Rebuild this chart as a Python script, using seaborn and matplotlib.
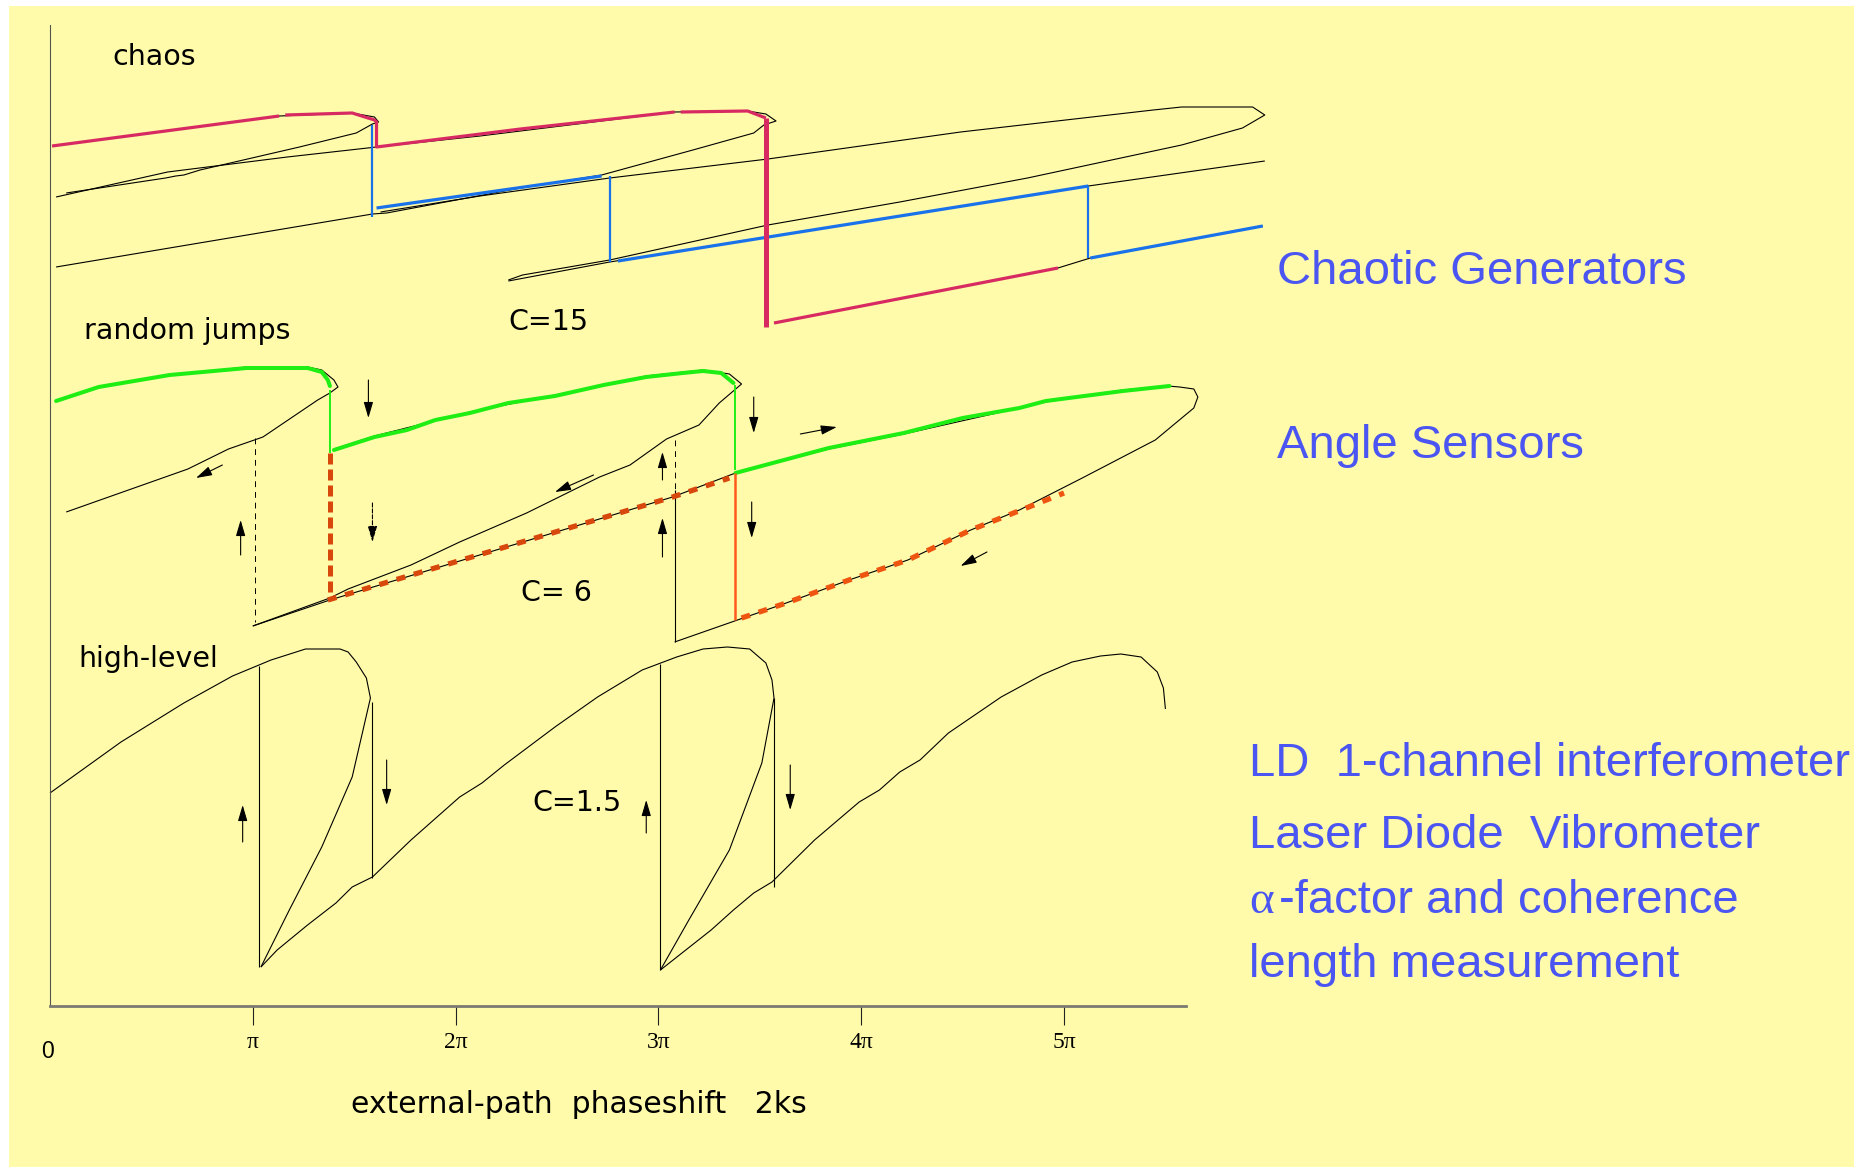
import matplotlib
matplotlib.use("Agg")
import matplotlib.pyplot as plt
from matplotlib.patches import Rectangle
import pandas as pd
import seaborn as sns

# ------------------------------------------------------------------
# Self-mixing interferometer response vs. external phase 2ks
# x: phase in units of pi, y: output level (arbitrary units)
# ------------------------------------------------------------------

# C = 15 : chaos
c15_loop1 = [(0.01, 8.60), (1.13, 8.90), (1.49, 8.93), (1.60, 8.89), (1.62, 8.84),
             (1.59, 8.82), (1.51, 8.73), (1.23, 8.59), (0.74, 8.36), (0.66, 8.31),
             (0.62, 8.30), (0.57, 8.28), (0.08, 8.13)]
c15_loop2 = [(0.03, 8.09), (0.58, 8.34), (1.17, 8.49), (1.61, 8.59), (2.12, 8.70),
             (3.08, 8.94), (3.44, 8.95), (3.53, 8.92), (3.58, 8.85), (3.52, 8.81),
             (3.47, 8.73), (3.17, 8.56), (2.72, 8.31), (2.32, 8.18), (1.66, 7.93),
             (1.59, 7.92), (0.03, 7.39)]
c15_loop3 = [(1.63, 7.94), (2.12, 8.10), (2.76, 8.28), (3.54, 8.47), (4.49, 8.74),
             (5.44, 8.96), (5.58, 8.99), (5.93, 8.99), (5.99, 8.91), (5.88, 8.78),
             (5.58, 8.61), (4.82, 8.28), (4.19, 8.04), (3.54, 7.81), (2.76, 7.46),
             (2.33, 7.31), (2.26, 7.26)]
c15_branch4 = [(2.26, 7.25), (2.76, 7.44), (5.12, 8.20), (5.99, 8.45)]
c15_branch5 = [(3.57, 6.83), (4.97, 7.38), (5.13, 7.48), (5.98, 7.80)]

c15_red_runs = [
    [(0.01, 8.60), (1.13, 8.90)],
    [(1.16, 8.91), (1.49, 8.93), (1.60, 8.86), (1.61, 8.84), (1.61, 8.59),
     (2.32, 8.77), (3.08, 8.94)],
    [(3.11, 8.94), (3.44, 8.95), (3.53, 8.88)],
    [(3.57, 6.83), (4.97, 7.38)],
]
c15_red_drop = [(3.53, 8.88), (3.53, 6.79)]
c15_blue_runs = [
    [(1.61, 7.98), (2.72, 8.30)],
    [(2.80, 7.45), (5.12, 8.20)],
    [(5.13, 7.48), (5.98, 7.80)],
]
c15_blue_drops = [
    [(1.59, 8.81), (1.59, 7.89)],
    [(2.76, 8.30), (2.76, 7.44)],
    [(5.12, 8.20), (5.12, 7.48)],
]

# C = 6 : random jumps
c6_loop_a = [(0.03, 6.05), (0.24, 6.19), (0.59, 6.31), (0.97, 6.39), (1.27, 6.39),
             (1.34, 6.36), (1.40, 6.26), (1.42, 6.19), (1.38, 6.13), (1.32, 6.06),
             (1.05, 5.69), (0.88, 5.57), (0.68, 5.37), (0.08, 4.94)]
c6_loop_b = [(1.00, 3.80), (1.38, 4.08), (1.47, 4.17), (1.78, 4.41), (2.02, 4.64),
             (2.35, 4.93), (2.71, 5.29), (2.86, 5.41), (3.04, 5.67), (3.20, 5.81),
             (3.30, 6.03), (3.41, 6.22), (3.35, 6.32), (3.22, 6.36), (2.94, 6.30),
             (2.49, 6.11), (2.07, 5.94), (1.60, 5.70), (1.40, 5.57)]
c6_loop_c = [(1.00, 3.80), (1.38, 4.06), (3.07, 5.09), (3.38, 5.33), (3.84, 5.57),
             (4.21, 5.72), (4.91, 6.04), (5.29, 6.16), (5.51, 6.20), (5.57, 6.19),
             (5.64, 6.17), (5.66, 6.09), (5.64, 5.98), (5.45, 5.66), (5.09, 5.28),
             (4.78, 4.96), (4.54, 4.76), (4.23, 4.46), (3.94, 4.26), (3.63, 4.03),
             (3.39, 3.86), (3.08, 3.64)]
c6_green_runs = [
    [(0.03, 6.05), (0.24, 6.19), (0.59, 6.31), (0.97, 6.38), (1.27, 6.38),
     (1.34, 6.34), (1.37, 6.26), (1.38, 6.20)],
    [(1.40, 5.56), (1.60, 5.69), (1.76, 5.76), (1.90, 5.86), (2.07, 5.93),
     (2.26, 6.03), (2.49, 6.10), (2.73, 6.21), (2.94, 6.29), (3.12, 6.33),
     (3.22, 6.35), (3.31, 6.33), (3.37, 6.23)],
    [(3.38, 5.33), (3.84, 5.58), (4.21, 5.73), (4.50, 5.88), (4.78, 5.98),
     (4.91, 6.05), (5.29, 6.15), (5.52, 6.20)],
]
c6_green_drops = [[(1.38, 6.16), (1.38, 5.53)], [(3.38, 6.21), (3.38, 5.36)]]
c6_orange_dashed_drop = [(1.38, 5.53), (1.38, 4.08)]
c6_orange_drop = [(3.38, 5.33), (3.38, 3.86)]
c6_orange_dots = [
    [(1.37, 4.06), (3.07, 5.09), (3.35, 5.28)],
    [(3.41, 3.88), (3.63, 4.03), (3.94, 4.26), (4.23, 4.46), (4.54, 4.76), (5.00, 5.13)],
]
c6_guides_dashed = [[(1.01, 5.68), (1.01, 3.84)], [(3.08, 5.66), (3.08, 5.16)]]
c6_guides_solid = [[(3.08, 5.16), (3.08, 3.64)]]
c6_arrows = [((0.85, 5.41), (0.72, 5.28)), ((0.94, 4.51), (0.94, 4.86)),
             ((1.57, 6.26), (1.57, 5.88)), ((2.68, 5.31), (2.49, 5.14)),
             ((3.02, 5.26), (3.02, 5.54)), ((3.02, 4.49), (3.02, 4.88)),
             ((3.47, 6.09), (3.47, 5.73)), ((3.70, 5.72), (3.88, 5.79)),
             ((3.46, 5.04), (3.46, 4.68)), ((4.62, 4.54), (4.49, 4.40))]
c6_dashed_arrow = ((1.59, 5.03), (1.59, 4.64))

# C = 1.5 : high-level
c1p5_arc1 = [(0.00, 2.13), (0.35, 2.64), (0.66, 3.03), (0.90, 3.30), (1.09, 3.46),
             (1.26, 3.57), (1.43, 3.57), (1.47, 3.54), (1.51, 3.44), (1.56, 3.28),
             (1.58, 3.08), (1.49, 2.29), (1.34, 1.59), (1.18, 0.96), (1.04, 0.39)]
c1p5_arc2 = [(1.04, 0.39), (1.12, 0.56), (1.27, 0.81), (1.41, 1.03), (1.49, 1.19),
             (1.59, 1.29), (1.78, 1.66), (2.02, 2.09), (2.13, 2.23), (2.24, 2.41),
             (2.49, 2.79), (2.70, 3.09), (2.92, 3.36), (3.09, 3.49), (3.22, 3.57),
             (3.34, 3.59), (3.45, 3.57), (3.53, 3.43), (3.56, 3.26), (3.57, 3.08),
             (3.51, 2.43), (3.35, 1.56), (3.15, 0.86), (3.01, 0.36)]
c1p5_arc3 = [(3.01, 0.36), (3.26, 0.76), (3.37, 0.96), (3.47, 1.13), (3.56, 1.24),
             (3.77, 1.66), (3.99, 2.04), (4.09, 2.16), (4.19, 2.34), (4.29, 2.46),
             (4.43, 2.73), (4.69, 3.09), (4.89, 3.31), (5.04, 3.44), (5.18, 3.50),
             (5.28, 3.52), (5.38, 3.49), (5.46, 3.34), (5.49, 3.18), (5.50, 2.97)]
c1p5_jumps = [[(1.03, 3.40), (1.03, 0.39)], [(1.59, 3.04), (1.59, 1.28)],
              [(3.01, 3.42), (3.01, 0.36)], [(3.57, 3.08), (3.57, 1.19)]]
c1p5_arrows = [((0.95, 1.64), (0.95, 2.01)), ((1.66, 2.46), (1.66, 2.01)),
               ((2.94, 1.73), (2.94, 2.06)), ((3.65, 2.41), (3.65, 1.96))]

# axis ticks (multiples of pi)
tick_pos = [1, 2, 3, 4, 5]
tick_txt = ["π", "2π", "3π", "4π", "5π"]

# panel captions: (text, phase, level)
captions = [("chaos", 0.31, 9.41), ("random jumps", 0.17, 6.67), ("C=15", 2.26, 6.76),
            ("high-level", 0.14, 3.39), ("C= 6", 2.32, 4.05), ("C=1.5", 2.38, 1.95)]

# application notes on the right: (text, x px, baseline px)
notes = [("Chaotic Generators", 1277, 284), ("Angle Sensors", 1277, 458),
         ("LD  1-channel interferometer", 1249, 776),
         ("Laser Diode  Vibrometer", 1249, 848),
         ("-factor and coherence", 1279, 913),
         ("length measurement", 1249, 977)]

# ------------------------------------------------------------------
sns.set_theme(style="white")
plt.rcParams["font.family"] = ["DejaVu Sans"]

W, H = 1875, 1171
fig = plt.figure(figsize=(W / 100, H / 100), dpi=100, facecolor="white")
fig.patches.append(Rectangle((9 / W, 1 - 1167 / H), (1854 - 9) / W, (1167 - 6) / H,
                             transform=fig.transFigure, facecolor="#FFFBAA",
                             edgecolor="none", zorder=-10))

ax = fig.add_axes([50 / W, 165 / H, 1135.7 / W, 981 / H])
ax.set_facecolor("none")

PINK, BLUE, GREEN = "#D82A62", "#1A72EA", "#1FEE14"
ORANGE_D, ORANGE_L = "#D8470C", "#FF5A1C"


def trace(pts, color="black", lw=0.8, ls="-", z=2, cap="butt"):
    df = pd.DataFrame(pts, columns=["phase", "level"])
    sns.lineplot(data=df, x="phase", y="level", sort=False, estimator=None,
                 color=color, linewidth=lw, linestyle=ls, legend=False, ax=ax,
                 clip_on=False, zorder=z, solid_capstyle=cap, dash_capstyle="butt")


def arrow(start, end, ls="-"):
    ax.annotate("", xy=end, xytext=start, xycoords="data",
                arrowprops=dict(arrowstyle="-|>,head_length=0.75,head_width=0.22",
                                mutation_scale=13, lw=0.8, color="black",
                                linestyle=ls, shrinkA=0, shrinkB=0),
                annotation_clip=False)


# chaos
for loop in (c15_loop1, c15_loop2, c15_loop3, c15_branch4, c15_branch5):
    trace(loop)
for run in c15_red_runs:
    trace(run, PINK, 2.3, z=4)
trace(c15_red_drop, PINK, 3.6, z=5)
for run in c15_blue_runs:
    trace(run, BLUE, 2.3, z=3)
for drop in c15_blue_drops:
    trace(drop, BLUE, 1.6, z=3)

# random jumps
for loop in (c6_loop_a, c6_loop_b, c6_loop_c):
    trace(loop)
for run in c6_green_runs:
    trace(run, GREEN, 2.9, z=4, cap="round")
for drop in c6_green_drops:
    trace(drop, GREEN, 1.4, z=4)
trace(c6_orange_dashed_drop, ORANGE_D, 3.6, ls=(0, (2.2, 1.0)), z=4)
trace(c6_orange_drop, ORANGE_L, 1.8, z=4)
trace(c6_orange_dots[0], ORANGE_D, 3.8, ls=(0, (1.7, 1.7)), z=4)
trace(c6_orange_dots[1], "#EE5510", 3.8, ls=(0, (1.7, 1.7)), z=4)
for g in c6_guides_dashed:
    trace(g, "black", 0.7, ls=(0, (6, 5)))
for g in c6_guides_solid:
    trace(g)
for s, e in c6_arrows:
    arrow(s, e)
arrow(*c6_dashed_arrow, ls="--")

# high-level
for arc in (c1p5_arc1, c1p5_arc2, c1p5_arc3):
    trace(arc)
for j in c1p5_jumps:
    trace(j)
for s, e in c1p5_arrows:
    arrow(s, e)

# axes
ax.set_xlim(0, 5.6)
ax.set_ylim(0, 9.81)
sns.despine(ax=ax)
ax.spines["left"].set_color("#555550")
ax.spines["left"].set_linewidth(0.8)
ax.spines["bottom"].set_color("#7A7A72")
ax.spines["bottom"].set_linewidth(2.0)
ax.set_yticks([])
ax.set_ylabel("")
ax.set_xticks(tick_pos)
ax.set_xticklabels(tick_txt, fontfamily="Liberation Serif", fontsize=17, color="black")
ax.tick_params(axis="x", direction="out", length=14, width=0.8, color="#222222",
               pad=5, bottom=True)
ax.text(-0.01, -0.45, "0", ha="center", va="center", fontsize=16.5,
        fontfamily="Liberation Sans", color="black", clip_on=False)
ax.set_xlabel("external-path  phaseshift   2ks", fontsize=21.5, color="black")
ax.xaxis.label.set_va("baseline")
ax.xaxis.set_label_coords((579 - 50) / 1135.7, -(1113 - 1006) / 981)

for txt, px, lv in captions:
    ax.text(px, lv, txt, ha="left", va="baseline", fontsize=20.5, color="black",
            clip_on=False)

BLUE_TXT = "#4A55F2"
for txt, x, y in notes:
    fig.text(x / W, 1 - y / H, txt, ha="left", va="baseline", fontsize=34,
             fontfamily="Liberation Sans", color=BLUE_TXT)
fig.text(1249 / W, 1 - 913 / H, "α", ha="left", va="baseline", fontsize=34,
         fontfamily="Liberation Serif", color=BLUE_TXT)

# white page margin on the right edge
fig.patches.append(Rectangle((1854 / W, 0), 1 - 1854 / W, 1, transform=fig.transFigure,
                             facecolor="white", edgecolor="none", zorder=20))

fig.savefig("out.png", dpi=100, facecolor="white")
